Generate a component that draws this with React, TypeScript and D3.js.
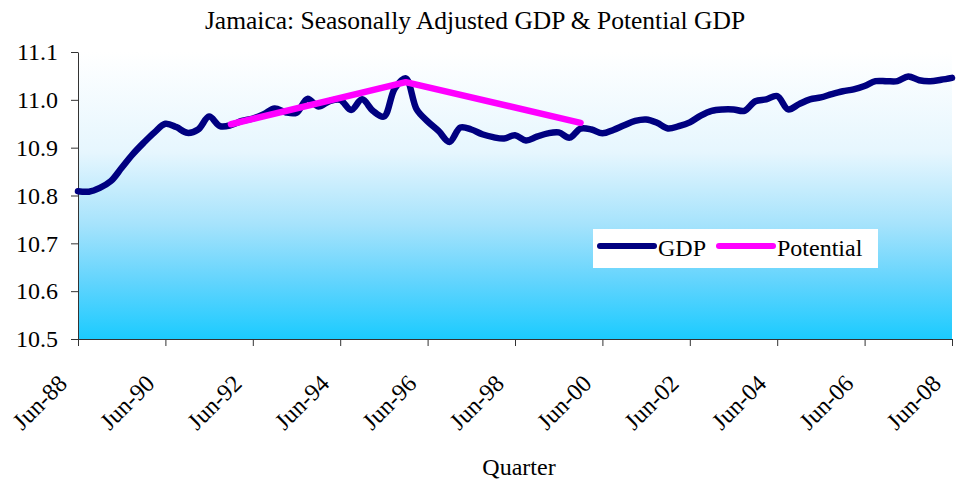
import React, { useEffect, useRef } from "react";
import * as d3 from "d3";

// quarterly data, Jun-88 .. Jun-08 (81 quarters)
const months = ["Jun", "Sep", "Dec", "Mar"];
const quarters: string[] = [];
for (let i = 0; i <= 80; i++) {
  const yr = 88 + Math.floor((i + 1) / 4);
  quarters.push(`${months[i % 4]}-${String(yr % 100).padStart(2, "0")}`);
}

const gdp = [
  10.809, 10.808, 10.816, 10.83, 10.858, 10.886, 10.91, 10.932, 10.95, 10.943,
  10.931, 10.938, 10.965, 10.945, 10.947, 10.956, 10.961, 10.97, 10.982, 10.974,
  10.973, 11.002, 10.986, 10.997, 11.0, 10.979, 11.001, 10.977, 10.965, 11.024,
  11.045, 10.98, 10.955, 10.935, 10.912, 10.942, 10.938, 10.928, 10.922, 10.919,
  10.926, 10.915, 10.923, 10.93, 10.932, 10.921, 10.94, 10.938, 10.93, 10.937,
  10.947, 10.956, 10.959, 10.952, 10.94, 10.945, 10.953, 10.967, 10.977, 10.98,
  10.98, 10.977, 10.997, 11.001, 11.008, 10.98, 10.991, 11.001, 11.005, 11.012,
  11.018, 11.022, 11.029, 11.039, 11.039, 11.039, 11.049, 11.041, 11.039, 11.042,
  11.046,
];

const potentialQuarters = ["Dec-91", "Dec-95", "Dec-99"];
const potential = [10.949, 11.037, 10.952];

const xTickLabels = ["Jun-88", "Jun-90", "Jun-92", "Jun-94", "Jun-96", "Jun-98", "Jun-00", "Jun-02", "Jun-04", "Jun-06", "Jun-08"];
const yTicks = [10.5, 10.6, 10.7, 10.8, 10.9, 11.0, 11.1];

const W = 956;
const H = 485;
const FONT = '"Liberation Serif", "Times New Roman", "DejaVu Serif", serif';

export default function App() {
  const svgRef = useRef<SVGSVGElement>(null);

  useEffect(() => {
    const svg = d3.select(svgRef.current);
    svg.selectAll("*").remove();

    const left = 78, right = 952, top = 52, bottom = 339;

    const x = d3.scalePoint<string>().domain(quarters).range([left, right]);
    const y = d3.scaleLinear().domain([10.5, 11.1]).range([bottom, top]);

    const defs = svg.append("defs");
    const grad = defs
      .append("linearGradient")
      .attr("id", "bg")
      .attr("x1", 0).attr("y1", 0).attr("x2", 0).attr("y2", 1);
    [
      [0, "#ffffff"],
      [0.35, "#e6f6fe"],
      [0.6, "#a6e3fc"],
      [0.8, "#62d4fd"],
      [1, "#1bcbff"],
    ].forEach(([o, c]) => grad.append("stop").attr("offset", o as number).attr("stop-color", c as string));

    svg
      .append("rect")
      .attr("x", left)
      .attr("y", top)
      .attr("width", right - left)
      .attr("height", bottom - top)
      .attr("fill", "url(#bg)");

    // y axis
    const yAxis = svg
      .append("g")
      .attr("transform", `translate(${left},0)`)
      .call(d3.axisLeft(y).tickValues(yTicks).tickFormat(d3.format(".1f")).tickSize(7).tickPadding(13).tickSizeOuter(0));
    yAxis.attr("font-family", null);
    yAxis.select(".domain").attr("stroke", "#333");
    yAxis.selectAll(".tick line").attr("stroke", "#333");
    yAxis.selectAll("text").style("font-family", FONT).style("font-size", "24px").attr("fill", "#000");

    // x axis
    const xAxis = svg
      .append("g")
      .attr("transform", `translate(0,${bottom})`)
      .call(d3.axisBottom(x).tickValues(xTickLabels).tickSize(7).tickSizeOuter(0));
    xAxis.attr("font-family", null);
    xAxis.select(".domain").attr("stroke", "#333");
    xAxis.selectAll(".tick line").attr("stroke", "#333");
    xAxis
      .selectAll("text")
      .attr("x", 0)
      .attr("y", 0)
      .attr("dy", 0)
      .attr("transform", "translate(-10,46) rotate(-45)")
      .style("text-anchor", "end")
      .style("font-family", FONT)
      .style("font-size", "24px")
      .attr("fill", "#000");

    // lines
    const gdpLine = d3
      .line<number>()
      .x((_, i) => x(quarters[i]) as number)
      .y((d) => y(d))
      .curve(d3.curveCatmullRom.alpha(0.5));

    svg
      .append("path")
      .datum(gdp)
      .attr("d", gdpLine)
      .attr("fill", "none")
      .attr("stroke", "#000080")
      .attr("stroke-width", 6.5)
      .attr("stroke-linejoin", "round")
      .attr("stroke-linecap", "round");

    const potLine = d3
      .line<number>()
      .x((_, i) => x(potentialQuarters[i]) as number)
      .y((d) => y(d));

    svg
      .append("path")
      .datum(potential)
      .attr("d", potLine)
      .attr("fill", "none")
      .attr("stroke", "#ff00ff")
      .attr("stroke-width", 6.5)
      .attr("stroke-linejoin", "round")
      .attr("stroke-linecap", "round");

    // legend
    const lg = svg.append("g");
    lg.append("rect").attr("x", 593).attr("y", 229).attr("width", 285).attr("height", 39).attr("fill", "#fff");
    const items = [
      { name: "GDP", color: "#000080", x0: 600 },
      { name: "Potential", color: "#ff00ff", x0: 719 },
    ];
    items.forEach((it) => {
      lg.append("line")
        .attr("x1", it.x0).attr("x2", it.x0 + 54)
        .attr("y1", 246).attr("y2", 246)
        .attr("stroke", it.color).attr("stroke-width", 6).attr("stroke-linecap", "round");
      lg.append("text")
        .attr("x", it.x0 + 58).attr("y", 256)
        .style("font-family", FONT).style("font-size", "24px")
        .text(it.name);
    });

    // titles
    svg
      .append("text")
      .attr("x", 475)
      .attr("y", 29)
      .attr("text-anchor", "middle")
      .style("font-family", FONT)
      .style("font-size", "25.5px")
      .text("Jamaica: Seasonally Adjusted GDP & Potential GDP");

    svg
      .append("text")
      .attr("x", 519)
      .attr("y", 475)
      .attr("text-anchor", "middle")
      .style("font-family", FONT)
      .style("font-size", "24px")
      .text("Quarter");
  }, []);

  return (
    <svg
      ref={svgRef}
      width={W}
      height={H}
      style={{ position: "absolute", left: 0, top: 0, background: "#fff" }}
    />
  );
}
